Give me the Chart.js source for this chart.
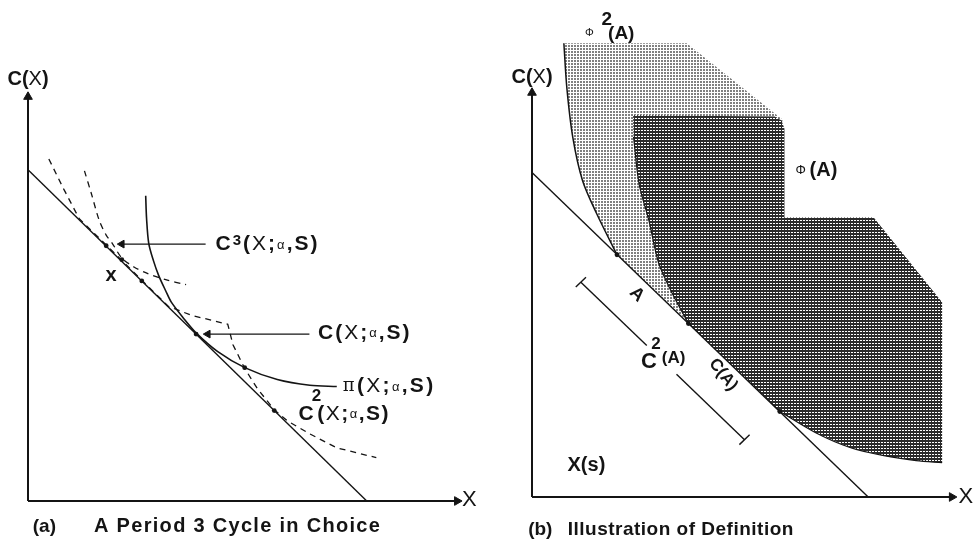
<!DOCTYPE html>
<html lang="en">
<head>
<meta charset="UTF-8">
<title>Period 3 cycle in choice</title>
<script src="https://cdn.jsdelivr.net/npm/chart.js"></script>
<style>
  html, body { margin: 0; padding: 0; background: #fff; }
  .wrap { display: flex; width: 980px; height: 543px; }
  canvas { display: block; }
</style>
</head>
<body>
<div class="wrap">
  <canvas id="chartA" width="490" height="543"></canvas>
  <canvas id="chartB" width="490" height="543"></canvas>
</div>
<script>
  // === Panel (a): a period 3 cycle (diagram units, origin at 0,0) ===
  const budgetA   = [[0, 81], [78, 0]];
  const cycleLong = [[4.8, 83.6], [8.2, 76.3], [11.8, 69.0], [18.0, 62.6], [26.2, 54.0], [32.3, 47.6],
                     [37.6, 45.4], [46.0, 43.2], [47.2, 38.2], [49.9, 32.4], [52.8, 27.5], [56.7, 22.3],
                     [59.7, 19.6], [64.9, 16.4], [71.1, 13.0], [80.2, 10.6]];
  const cycleShort = [[13.0, 80.7], [14.6, 75.1], [16.4, 68.6], [18.0, 65.0], [19.4, 63.0], [21.6, 59.4],
                      [24.4, 57.2], [27.1, 55.8], [31.7, 54.1], [36.4, 52.9]];
  const piCurve   = [[27.1, 74.6], [27.3, 69.1], [27.8, 63.0], [28.9, 58.7], [30.1, 55.1], [31.7, 51.4],
                     [33.0, 48.6], [35.8, 44.7], [38.7, 41.1], [43.7, 36.5], [49.9, 32.6], [57.4, 29.7],
                     [64.9, 28.3], [71.1, 28.0]];
  const dotsA     = [[18.0, 62.4], [21.6, 59.0], [26.2, 53.8], [38.7, 40.8], [49.9, 32.6], [56.7, 22.1]];
  const arrowC3   = [[40.9, 62.8], [21.6, 62.8]];
  const arrowC    = [[64.8, 40.8], [41.4, 40.8]];

  // === Panel (b): illustration of definition ===
  const budgetB   = [[0, 79.3], [79.1, 0]];
  const phi2Edge  = [[7.5, 110.9], [8.2, 100.0], [9.6, 87.9], [11.9, 77.3], [15.2, 69.3], [20.0, 59.2]];
  const phi2Area  = [[7.5, 110.9], [8.2, 100.0], [9.6, 87.9], [11.9, 77.3], [15.2, 69.3], [20.0, 59.2],
                     [36.8, 42.4], [53.1, 71.7], [59.0, 92.2], [36.4, 110.9], [7.5, 110.9]];
  const phiEdgeLeft = [[23.9, 88.0], [25.2, 76.5], [27.5, 67.6], [29.8, 57.2], [32.9, 50.0], [36.8, 42.4]];
  const phiEdgeLow  = [[58.3, 20.9], [67.1, 15.5], [74.8, 12.1], [82.8, 10.1], [90.4, 8.9], [96.5, 8.4]];
  const phiArea   = [[23.8, 93.3], [23.9, 88.0], [25.2, 76.5], [27.5, 67.6], [29.8, 57.2], [32.9, 50.0],
                     [36.8, 42.4], [58.3, 20.9], [67.1, 15.5], [74.8, 12.1], [82.8, 10.1], [90.4, 8.9],
                     [96.5, 8.4], [96.5, 47.6], [80.4, 68.3], [59.4, 68.3], [59.4, 90.0], [58.7, 92.0],
                     [57.1, 93.0], [23.8, 93.3]];
  const dotsB     = [[20.0, 59.2], [36.8, 42.4], [58.3, 20.9]];
  const bracketUp = [[11.5, 52.5], [27.0, 37.0]];
  const bracketDn = [[34.0, 30.0], [50.0, 14.0]];
  const tickUp    = [[10.3, 51.3], [12.7, 53.7]];
  const tickDn    = [[48.8, 12.8], [51.2, 15.2]];

  const INK = '#141414';
  const FONT = '"Liberation Sans", Arial, sans-serif';
  const B = s => 'bold ' + s + 'px ' + FONT;
  const N = s => s + 'px ' + FONT;
  const SERIF = s => s + 'px "DejaVu Serif", serif';

  const pts = a => a.map(([x, y]) => ({ x, y }));

  function line(data, extra) {
    return Object.assign({
      data: pts(data), showLine: true, borderColor: INK, borderWidth: 1.5,
      pointRadius: 0, tension: 0, fill: false, clip: false, order: 2
    }, extra);
  }
  function axis(data, rot) {
    return line(data, {
      borderWidth: 2, pointStyle: 'triangle', pointRadius: [0, 5], pointRotation: [0, rot],
      pointBackgroundColor: INK, pointBorderColor: INK, pointBorderWidth: 1
    });
  }
  function arrow(data) {
    return line(data, {
      borderWidth: 1.4, pointStyle: 'triangle', pointRadius: [0, 4.5], pointRotation: [0, 270],
      pointBackgroundColor: INK, pointBorderColor: INK, pointBorderWidth: 1
    });
  }
  function dots(data) {
    return { data: pts(data), showLine: false, pointRadius: 2.4, pointBackgroundColor: INK,
             pointBorderWidth: 0, clip: false, order: 0 };
  }

  // halftone screens
  function screen(bg, fg, rects) {
    const c = document.createElement('canvas');
    c.width = c.height = 3;
    const g = c.getContext('2d');
    g.fillStyle = bg; g.fillRect(0, 0, 3, 3);
    g.fillStyle = fg; rects.forEach(r => g.fillRect(r[0], r[1], r[2], r[3]));
    return g.createPattern(c, 'repeat');
  }
  const lightScreen = screen('#ffffff', '#808080', [[0, 0, 2, 2]]);
  const darkScreen  = screen('#2a2a2a', '#ffffff', [[1, 1, 2, 1]]);

  // label text drawn at diagram coordinates
  function labelPlugin(items) {
    return {
      id: 'labels',
      afterDraw(chart) {
        const ctx = chart.ctx, sx = chart.scales.x, sy = chart.scales.y;
        items.forEach(it => {
          ctx.save();
          ctx.translate(sx.getPixelForValue(it.at[0]), sy.getPixelForValue(it.at[1]));
          if (it.rot) ctx.rotate(it.rot * Math.PI / 180);
          ctx.fillStyle = INK;
          ctx.textBaseline = 'middle';
          ctx.letterSpacing = (it.ls || 0) + 'px';
          const gap = it.gap || 0;
          let w = -gap;
          it.parts.forEach(p => { ctx.font = p[1]; w += ctx.measureText(p[0]).width + gap; });
          let cx = it.align === 'center' ? -w / 2 : 0;
          it.parts.forEach(p => {
            ctx.font = p[1];
            ctx.fillText(p[0], cx, p[2] || 0);
            cx += ctx.measureText(p[0]).width + gap;
          });
          ctx.restore();
        });
      }
    };
  }

  const cX = [['C', B(20)], ['(', B(20)], ['X', N(20)], [')', B(20)]];
  const args = [['(', B(21)], ['X', N(21)], [';', B(21)], ['\u03b1', N(13), 1], [',', B(21)], ['S', B(21)], [')', B(21)]];

  const labelsA = [
    { at: [0, 103.1], align: 'center', parts: cX },
    { at: [101.6, 0.2], align: 'center', parts: [['X', N(22)]] },
    { at: [43.2, 62.8], gap: 2, parts: [['C', B(21)], ['3', B(15), -3]].concat(args) },
    { at: [66.8, 41.1], gap: 2, parts: [['C', B(21)]].concat(args) },
    { at: [72.5, 28.0], gap: 2.3, parts: [['\u03c0', SERIF(18)]].concat(args) },
    { at: [62.3, 21.3], parts: [['C', B(21)]] },
    { at: [66.4, 25.6], align: 'center', parts: [['2', B(17)]] },
    { at: [66.6, 21.3], gap: 1.5, parts: args },
    { at: [19.1, 55.1], align: 'center', parts: [['x', B(20)]] },
    { at: [1.1, -6.3], parts: [['(a)', B(19)]] },
    { at: [15.2, -6.3], ls: 1.3, parts: [['A Period 3 Cycle in Choice', B(20)]] }
  ];

  const labelsB = [
    { at: [0, 102.6], align: 'center', parts: cX },
    { at: [102.1, 0], align: 'center', parts: [['X', N(22)]] },
    { at: [13.5, 113.5], align: 'center', parts: [['\u03a6', N(11)]] },
    { at: [17.6, 116.6], align: 'center', parts: [['2', B(19)]] },
    { at: [17.9, 113.3], parts: [['(A)', B(19)]] },
    { at: [63.2, 79.7], align: 'center', parts: [['\u03a6', N(13)]] },
    { at: [65.3, 79.7], parts: [['(A)', B(20)]] },
    { at: [24.7, 49.5], align: 'center', rot: 44, parts: [['A', B(18)]] },
    { at: [27.5, 33.1], align: 'center', parts: [['C', B(22)]] },
    { at: [29.2, 37.4], align: 'center', parts: [['2', B(17)]] },
    { at: [33.3, 33.8], align: 'center', parts: [['(A)', B(17)]] },
    { at: [45.0, 29.9], align: 'center', rot: 52, parts: [['C(A)', B(17)]] },
    { at: [12.8, 7.7], align: 'center', parts: [['X(s)', B(20)]] },
    { at: [-0.9, -8.0], parts: [['(b)', B(19)]] },
    { at: [8.4, -8.0], ls: 0.5, parts: [['Illustration of Definition', B(19)]] }
  ];

  function makeChart(id, datasets, labels, pad, xMax, yMax) {
    return new Chart(document.getElementById(id), {
      type: 'scatter',
      data: { datasets },
      options: {
        responsive: false, animation: false, events: [],
        layout: { padding: pad },
        scales: {
          x: { type: 'linear', min: 0, max: xMax, display: false },
          y: { type: 'linear', min: 0, max: yMax, display: false }
        },
        plugins: { legend: { display: false }, tooltip: { enabled: false } }
      },
      plugins: [labelPlugin(labels)]
    });
  }

  // === (a) ===
  makeChart('chartA', [
    axis([[0, 0], [0, 98.8]], 0),
    axis([[0, 0], [98.8, 0]], 90),
    line(budgetA, { borderWidth: 1.4 }),
    line(piCurve, { borderWidth: 1.6, tension: 0.3 }),
    line(cycleLong, { borderWidth: 1.3, borderDash: [6, 5] }),
    line(cycleShort, { borderWidth: 1.3, borderDash: [6, 5], tension: 0.3 }),
    arrow(arrowC3),
    arrow(arrowC),
    dots(dotsA)
  ], labelsA, { left: 28, right: 0, top: 0, bottom: 42 }, 105, 121);

  // === (b) ===
  makeChart('chartB', [
    line(phi2Area, { borderWidth: 0, fill: 'shape', backgroundColor: lightScreen, order: 6 }),
    line(phiArea, { borderWidth: 0, fill: 'shape', backgroundColor: darkScreen, order: 5 }),
    line(phi2Edge, { borderWidth: 1.5, tension: 0.3, order: 3 }),
    line(phiEdgeLeft, { borderWidth: 1.2, tension: 0.3, order: 3 }),
    line(phiEdgeLow, { borderWidth: 1.2, tension: 0.3, order: 3 }),
    axis([[0, 0], [0, 98.8]], 0),
    axis([[0, 0], [98.8, 0]], 90),
    line(budgetB, { borderWidth: 1.4 }),
    line(bracketUp, { borderWidth: 1.4 }),
    line(bracketDn, { borderWidth: 1.4 }),
    line(tickUp, { borderWidth: 1.4 }),
    line(tickDn, { borderWidth: 1.4 }),
    dots(dotsB)
  ], labelsB, { left: 42, right: 2, top: 0, bottom: 46 }, 104, 120);
</script>
</body>
</html>
